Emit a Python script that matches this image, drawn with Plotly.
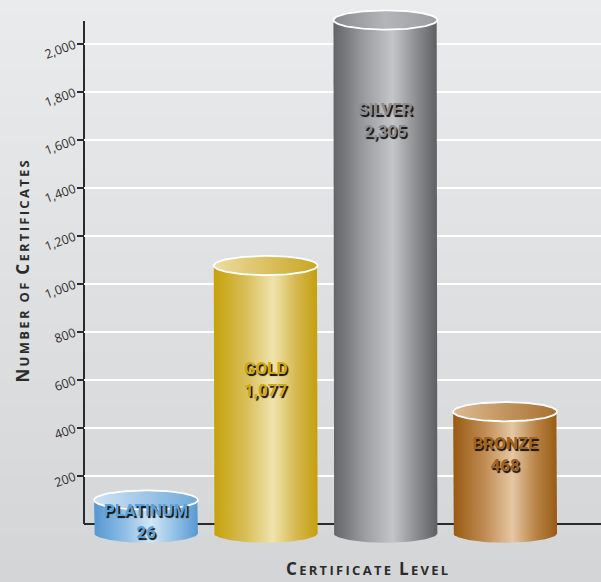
import base64, struct, zlib
import numpy as np
import plotly.graph_objects as go

# ---------------- data ----------------
levels = ["PLATINUM", "GOLD", "SILVER", "BRONZE"]
certificates = [26, 1077, 2305, 468]
value_labels = ["26", "1,077", "2,305", "468"]
tick_values = [200, 400, 600, 800, 1000, 1200, 1400, 1600, 1800, 2000]
tick_text = ["200", "400", "600", "800", "1,000", "1,200", "1,400", "1,600", "1,800", "2,000"]

# ---------------- styling ----------------
W, H = 601, 582
ML, MB = 84, 26
# the chart uses a broken scale: tall bars are capped, tiny bars get a visible minimum
VIS_MIN, VIS_CAP = 100, 2100
BASE = -38            # bottom-ellipse centre (data units)
RY = 40               # ellipse half height (data units)
HALF_W = 0.434        # cylinder half width (x units)
LABEL_Y = [4, 596, 1675, 283]

body_scales = {
    "PLATINUM": [[0, "#5597d0"], [0.3, "#8fbfe6"], [0.55, "#d3e6f5"], [0.8, "#8cbce4"], [1, "#5899d1"]],
    "GOLD": [[0, "#c6a10c"], [0.3, "#d8bd55"], [0.57, "#f0e3ad"], [0.8, "#d5b74c"], [1, "#c49f0e"]],
    "SILVER": [[0, "#636468"], [0.3, "#9c9da1"], [0.57, "#c4c5c9"], [0.8, "#8c8d91"], [1, "#5e5f63"]],
    "BRONZE": [[0, "#985a12"], [0.3, "#c08b52"], [0.57, "#e5c7a3"], [0.8, "#b88245"], [1, "#985b14"]],
}
top_scales = {
    "PLATINUM": [[0, "#cfe3f4"], [1, "#6fa9da"]],
    "GOLD": [[0, "#ecdca2"], [1, "#c9a623"]],
    "SILVER": [[0, "#8a8b8f"], [0.5, "#b4b5b9"], [1, "#9c9da1"]],
    "BRONZE": [[0, "#dcba92"], [1, "#a8702e"]],
}
label_colors = {"PLATINUM": "#5aa2dc", "GOLD": "#cfa80c", "SILVER": "#8b8c90", "BRONZE": "#a0631a"}

# ---------------- background gradient image ----------------
def png_gradient(top, bottom, n=64):
    rows = b""
    for i in range(n):
        t = i / (n - 1)
        px = bytes(int(round(top[k] + (bottom[k] - top[k]) * t)) for k in range(3))
        rows += b"\x00" + px
    def chunk(tag, data):
        c = struct.pack(">I", len(data)) + tag + data
        return c + struct.pack(">I", zlib.crc32(tag + data) & 0xffffffff)
    raw = b"\x89PNG\r\n\x1a\n" + chunk(b"IHDR", struct.pack(">IIBBBBB", 1, n, 8, 2, 0, 0, 0)) \
        + chunk(b"IDAT", zlib.compress(rows)) + chunk(b"IEND", b"")
    return "data:image/png;base64," + base64.b64encode(raw).decode()

bg = png_gradient((234, 235, 237), (212, 213, 215))

# ---------------- scales ----------------
px_per_unit_y = 0.24
y_top = 524 / px_per_unit_y
y_bot = (524 - (H - MB)) / px_per_unit_y
px_per_cat = 119.7
x_lo = -(146 - ML) / px_per_cat
x_hi = x_lo + (W - ML) / px_per_cat

fig = go.Figure()
drawn = list(np.clip(certificates, VIS_MIN, VIS_CAP))
th = np.linspace(0, np.pi, 60)
th2 = np.linspace(np.pi, 2 * np.pi, 60)
th_full = np.linspace(0, 2 * np.pi, 120)

for i, (lvl, top) in enumerate(zip(levels, drawn)):
    c = i
    xs = [c - HALF_W, c - HALF_W]
    ys = [top, BASE]
    xs += list(c + HALF_W * np.cos(th2))
    ys += list(BASE + RY * np.sin(th2))
    xs += [c + HALF_W, c + HALF_W]
    ys += [BASE, top]
    xs += list(c + HALF_W * np.cos(th))
    ys += list(top + RY * np.sin(th))
    fig.add_trace(go.Scatter(
        x=xs, y=ys, mode="lines", fill="toself", line=dict(width=0),
        fillgradient=dict(type="horizontal", colorscale=body_scales[lvl]),
        hoverinfo="skip", showlegend=False))
    fig.add_trace(go.Scatter(
        x=list(c + HALF_W * np.cos(th_full)), y=list(top + RY * np.sin(th_full)),
        mode="lines", fill="toself", line=dict(width=1.8, color="white"),
        fillgradient=dict(type="horizontal", colorscale=top_scales[lvl]),
        hoverinfo="skip", showlegend=False))

fig.add_trace(go.Scatter(
    x=list(range(len(levels))), y=LABEL_Y, mode="text",
    text=[f"{l}<br>{v}" for l, v in zip(levels, value_labels)],
    textfont=dict(family="Roboto", size=17, weight="bold",
                  color=[label_colors[l] for l in levels],
                  shadow="1.6px 1.6px 0.8px #151515"),
    hoverinfo="skip", showlegend=False, cliponaxis=False))

fig.add_shape(type="line", xref="paper", yref="y", x0=0, x1=1, y0=0, y1=0,
              line=dict(color="#2b2b2b", width=2), layer="below")
fig.add_shape(type="line", xref="paper", yref="y", x0=0, x1=0, y0=0, y1=(524 - 21) / px_per_unit_y,
              line=dict(color="#2b2b2b", width=2), layer="below")

def small_caps(txt, big):
    out = []
    for word in txt.split(" "):
        if len(word) > 2:
            out.append(f"<span style='font-size:{big}px'>{word[0]}</span>{word[1:]}")
        else:
            out.append(word)
    return "<span style='letter-spacing:2.3px'>" + " ".join(out) + "</span>"

fig.add_annotation(xref="paper", yref="paper", x=(368 - ML) / (W - ML), y=(H - MB - 575) / (H - MB),
                   text=small_caps("CERTIFICATE LEVEL", 17), showarrow=False, yshift=-7,
                   font=dict(family="Open Sans", size=13, weight="bold", color="#2b2b2b"))
fig.add_annotation(xref="paper", yref="paper", x=(22 - ML) / (W - ML), y=(H - MB - 270) / (H - MB),
                   text=small_caps("NUMBER OF CERTIFICATES", 17), showarrow=False, textangle=-90,
                   xshift=-14,
                   font=dict(family="Open Sans", size=13, weight="bold", color="#2b2b2b"))

fig.update_layout(
    width=W, height=H, margin=dict(l=ML, r=0, t=0, b=MB),
    paper_bgcolor="rgba(0,0,0,0)", plot_bgcolor="rgba(0,0,0,0)",
    images=[dict(source=bg, xref="paper", yref="paper", x=-ML / (W - ML), y=1 + 0.0,
                 sizex=W / (W - ML), sizey=H / (H - MB), sizing="stretch",
                 xanchor="left", yanchor="top", layer="below")],
    xaxis=dict(range=[x_lo, x_hi], showgrid=False, zeroline=False, showline=False,
               showticklabels=False, ticks="", fixedrange=True),
    yaxis=dict(range=[y_bot, y_top], tickvals=tick_values, ticktext=tick_text,
               showgrid=True, gridcolor="white", gridwidth=2, zeroline=False, showline=False,
               ticks="outside", ticklen=6, tickwidth=1.5, tickcolor="#2b2b2b",
               tickangle=-20, tickfont=dict(family="Open Sans", size=12.5, color="#2e2e2e"),
               fixedrange=True),
    font=dict(family="Open Sans"),
)
fig.write_html("out.html")
